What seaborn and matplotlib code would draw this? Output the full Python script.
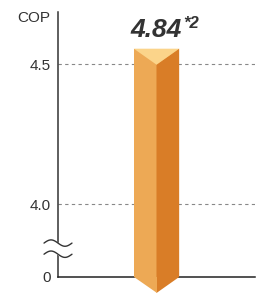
import numpy as np
import matplotlib
matplotlib.use("Agg")
import matplotlib.pyplot as plt
from matplotlib.patches import Polygon
import seaborn as sns

# -----------------------
# Data
# -----------------------
categories = ["COP"]
bar_top = [4.555]          # visible bar top (axis is cut)
cop_label = "4.84"
note_mark = "*2"
tick_values = [0, 4.0, 4.5]
tick_labels = ["0", "4.0", "4.5"]
grid_values = [4.0, 4.5]

# colours
LEFT_FACE = "#EDA955"
RIGHT_FACE = "#D97D27"
TOP_FACE = "#FBD48A"
TEXT = "#333333"

sns.set_style("white")
plt.rcParams["font.family"] = ["Liberation Sans", "DejaVu Sans"]


# broken axis: 0..4 squeezed into a short stretch under 4.0
def fwd(v):
    v = np.asarray(v, dtype=float)
    return np.where(v >= 4, v, 3.74 + v * 0.065)


def inv(u):
    u = np.asarray(u, dtype=float)
    return np.where(u >= 4, u, (u - 3.74) / 0.065)


fig = plt.figure(figsize=(2.59, 2.93), dpi=100)
ax = fig.add_axes([58 / 259, 16 / 293, 197 / 259, 265 / 293])
ax.set_yscale("function", functions=(fwd, inv))

sns.barplot(x=categories, y=bar_top, color=LEFT_FACE, saturation=1,
            width=0.46, linewidth=0, ax=ax, zorder=3)
ax.set_xlim(-1, 1)
ax.set_ylim(0, 4.686)

ax.set_yticks(tick_values)
ax.set_yticklabels(tick_labels, fontsize=11, color=TEXT)
ax.tick_params(axis="y", length=0, pad=5)
ax.set_xticks([])
ax.set_xlabel("")
ax.set_ylabel("")
for v in grid_values:
    ax.axhline(v, color="#888888", lw=0.8, ls=(0, (3, 3)), zorder=1)

for s in ["top", "right"]:
    ax.spines[s].set_visible(False)
ax.spines["left"].set_color(TEXT)
ax.spines["left"].set_linewidth(1.1)
ax.spines["bottom"].set_color("#222222")
ax.spines["bottom"].set_linewidth(1.1)

# -----------------------
# 3D faces of the bar
# -----------------------
patch = ax.patches[0]
patch.set_clip_on(False)
x0 = patch.get_x()
w = patch.get_width()
xc = x0 + w / 2
x1 = x0 + w
top = patch.get_y() + patch.get_height()
depth_px = 16
to_disp = ax.transData.transform
to_data = ax.transData.inverted().transform
top_apex = to_data((xc, to_disp((xc, top))[1] - depth_px))[1]
bot_apex = to_data((xc, to_disp((xc, 0))[1] - depth_px))[1]

right_face = Polygon([(xc, top_apex), (x1, top), (x1, 0), (xc, bot_apex)],
                     closed=True, fc=RIGHT_FACE, ec="none", zorder=4, clip_on=False)
left_point = Polygon([(x0, 0), (xc, 0), (xc, bot_apex)],
                     closed=True, fc=LEFT_FACE, ec="none", zorder=4, clip_on=False)
top_face = Polygon([(x0, top), (x1, top), (xc, top_apex)],
                   closed=True, fc=TOP_FACE, ec="none", zorder=5, clip_on=False)
for p in (right_face, left_point, top_face):
    ax.add_patch(p)

# value label
ax.annotate(cop_label, xy=(xc, top), xytext=(18.4, 8.6), textcoords="offset points",
            ha="right", va="baseline", fontsize=19, fontweight="bold",
            fontstyle="italic", color=TEXT, annotation_clip=False)
ax.annotate(note_mark, xy=(xc, top), xytext=(19.0, 15.2), textcoords="offset points",
            ha="left", va="baseline", fontsize=12, fontweight="bold",
            fontstyle="italic", color=TEXT, annotation_clip=False)

# axis title
fig.text(17 / 259, 1 - 22 / 293, "COP", fontsize=11, color=TEXT, ha="left", va="baseline")

# break marks on the y axis
bx = np.linspace(-0.071, 0.071, 60)
wave = 0.012 * np.sin((bx + 0.071) / 0.142 * 2 * np.pi)
y_hi, y_lo = 0.128, 0.086
ax.fill_between(bx, y_lo + wave, y_hi + wave, color="white",
                transform=ax.transAxes, clip_on=False, zorder=6)
ax.plot(bx, y_hi + wave, color=TEXT, lw=1.0, transform=ax.transAxes, clip_on=False, zorder=7)
ax.plot(bx, y_lo + wave, color=TEXT, lw=1.0, transform=ax.transAxes, clip_on=False, zorder=7)

fig.savefig("out.png", dpi=100)
